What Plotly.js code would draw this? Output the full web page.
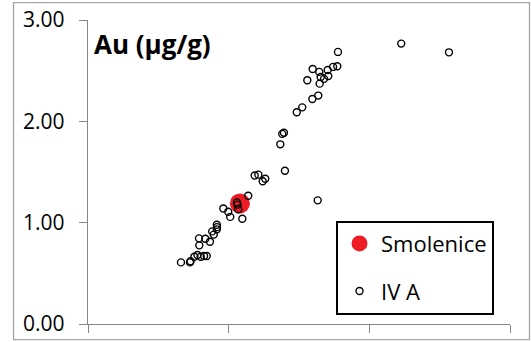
<!DOCTYPE html>
<html>
<head>
<meta charset="utf-8">
<script src="https://cdn.plot.ly/plotly-3.0.1.min.js"></script>
<style>html,body{margin:0;padding:0;background:#fff;}#chart{width:531px;height:342px;}</style>
</head>
<body>
<div id="chart"></div>
<script>
// Smolenice sample
const smolenice_x = [1.080];
const smolenice_y = [1.190];

// IV A iron meteorites
const ivA_x = [0.661,0.725,0.729,0.756,0.778,0.801,0.825,0.844,0.791,0.789,0.834,0.867,0.883,0.894,0.916,0.917,0.916,
  0.962,0.997,1.011,1.059,1.063,1.068,1.097,1.139,1.185,1.211,1.242,1.260,1.367,1.381,1.393,1.400,1.484,1.523,
  1.559,1.595,1.637,1.597,1.644,1.647,1.654,1.678,1.704,1.708,1.742,1.772,1.777,2.227,2.566,1.633];
const ivA_y = [0.608,0.608,0.620,0.664,0.681,0.664,0.671,0.671,0.776,0.845,0.842,0.812,0.914,0.882,0.980,0.956,0.934,
  1.140,1.107,1.057,1.200,1.178,1.133,1.038,1.265,1.466,1.474,1.408,1.434,1.773,1.876,1.888,1.513,2.089,2.138,
  2.405,2.221,2.254,2.517,2.488,2.372,2.438,2.419,2.507,2.448,2.537,2.543,2.685,2.767,2.681,1.220];

const yTicks = [0, 1, 2, 3];
const yTickText = ['0.00', '1.00', '2.00', '3.00'];
const xTicks = [0, 1, 2, 3];
const yTitle = 'Au (µg/g)';

const traces = [
  {x: smolenice_x, y: smolenice_y, name: 'Smolenice', type: 'scatter', mode: 'markers',
   legendgroup: 'a',
   marker: {symbol: 'circle', size: 20, color: '#ed1c24'}},
  {x: ivA_x, y: ivA_y, name: 'IV A', type: 'scatter', mode: 'markers',
   legendgroup: 'b',
   marker: {symbol: 'circle-open', size: 7, color: '#000', line: {width: 1.4, color: '#000'}}}
];

const layout = {
  width: 531, height: 342,
  margin: {l: 88, r: 21, t: 20, b: 18},
  paper_bgcolor: '#fff', plot_bgcolor: '#fff',
  font: {family: 'Open Sans, sans-serif', color: '#000'},
  xaxis: {range: [0, 3], tickvals: xTicks, showticklabels: false, ticks: 'outside', ticklen: 8,
          tickcolor: '#868686', showline: true, linecolor: '#868686', linewidth: 1.3,
          showgrid: false, zeroline: false, fixedrange: true},
  yaxis: {range: [0, 3], tickvals: yTicks, ticktext: yTickText, ticks: 'outside', ticklen: 8,
          tickcolor: '#868686', showline: true, linecolor: '#868686', linewidth: 1.3,
          showgrid: false, zeroline: false, ticklabelstandoff: 10,
          tickfont: {family: 'Open Sans, sans-serif', size: 21, color: '#000'}},
  showlegend: true,
  legend: {x: 0.5877, y: 0.340, xanchor: 'left', yanchor: 'top',
           bordercolor: '#000', borderwidth: 2, bgcolor: '#fff',
           font: {family: 'Open Sans, sans-serif', size: 22, color: '#000'},
           traceorder: 'grouped', tracegroupgap: 16, itemwidth: 33},
  annotations: [{text: '<b>' + yTitle + '</b>', xref: 'paper', yref: 'paper', x: 0.0095, y: 0.922,
                 xanchor: 'left', yanchor: 'middle', showarrow: false,
                 font: {family: 'Open Sans, sans-serif', size: 26, color: '#000'}}],
  shapes: [{type: 'rect', xref: 'paper', yref: 'paper', x0: -0.1765, x1: 1.0462, y0: -0.0516, y1: 1.0569,
            line: {color: '#a6a6a6', width: 1.3}, fillcolor: 'rgba(0,0,0,0)', layer: 'below'}]
};

Plotly.newPlot('chart', traces, layout, {displayModeBar: false, staticPlot: true});
</script>
</body>
</html>
